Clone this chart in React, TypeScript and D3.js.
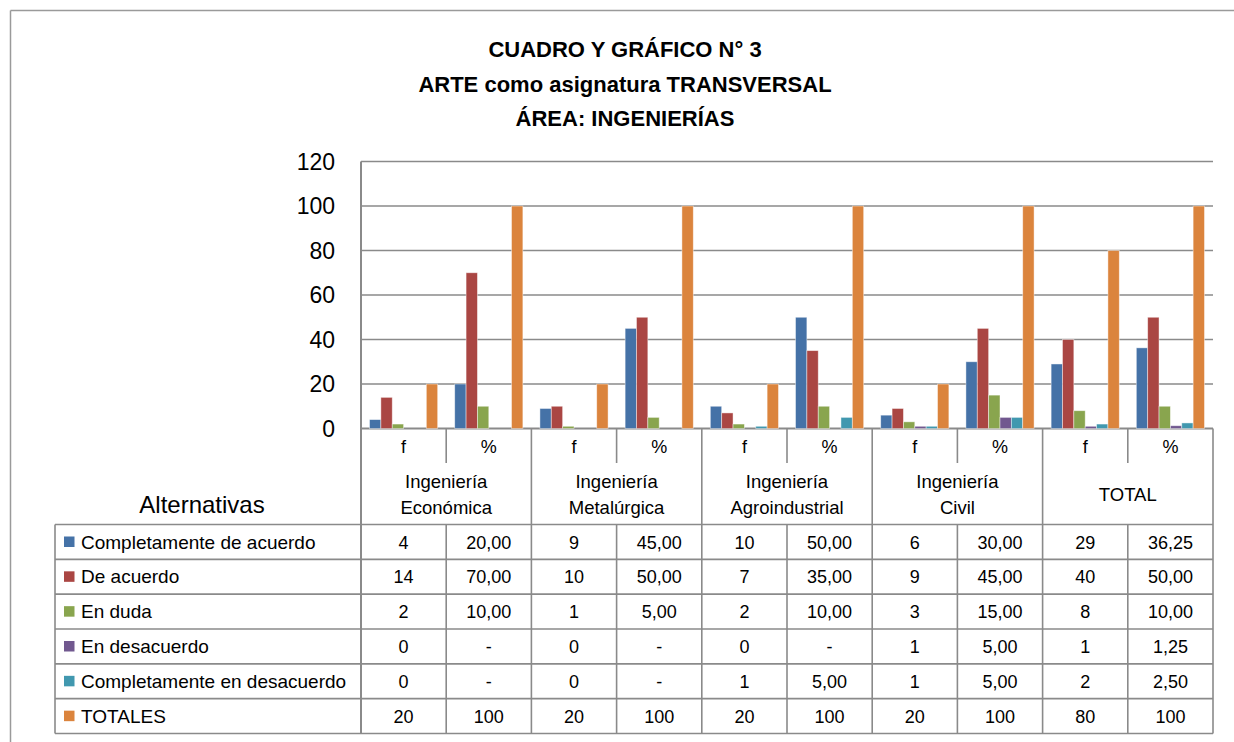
import React from "react";
import * as d3 from "d3";

const titleLines = ["CUADRO Y GRÁFICO N° 3", "ARTE como asignatura TRANSVERSAL", "ÁREA: INGENIERÍAS"];

const categories = [
  ["Ingeniería", "Económica"],
  ["Ingeniería", "Metalúrgica"],
  ["Ingeniería", "Agroindustrial"],
  ["Ingeniería", "Civil"],
  ["TOTAL"],
];
const subColumns = ["f", "%"];

const seriesNames = [
  "Completamente de acuerdo",
  "De acuerdo",
  "En duda",
  "En desacuerdo",
  "Completamente en desacuerdo",
  "TOTALES",
];
const seriesColors = ["#4572A7", "#AA4643", "#89A54E", "#71588F", "#4198AF", "#DB843D"];

// columns: Econ f, Econ %, Metal f, Metal %, Agro f, Agro %, Civil f, Civil %, TOTAL f, TOTAL %
const completamenteDeAcuerdo = [4, 20, 9, 45, 10, 50, 6, 30, 29, 36.25];
const deAcuerdo = [14, 70, 10, 50, 7, 35, 9, 45, 40, 50];
const enDuda = [2, 10, 1, 5, 2, 10, 3, 15, 8, 10];
const enDesacuerdo = [0, 0, 0, 0, 0, 0, 1, 5, 1, 1.25];
const completamenteEnDesacuerdo = [0, 0, 0, 0, 1, 5, 1, 5, 2, 2.5];
const totales = [20, 100, 20, 100, 20, 100, 20, 100, 80, 100];
const seriesValues = [completamenteDeAcuerdo, deAcuerdo, enDuda, enDesacuerdo, completamenteEnDesacuerdo, totales];

const yTicks = [0, 20, 40, 60, 80, 100, 120];
const rowHeaderLabel = "Alternativas";

const FONT = "'Liberation Sans', Arial, sans-serif";
const GRID = "#8a8a8a";

function fmt(v: number, isPct: boolean, isTotal: boolean): string {
  if (!isPct) return String(v);
  if (isTotal) return String(v);
  if (v === 0) return "-";
  return v.toFixed(2).replace(".", ",");
}

export default function App() {
  const W = 1234, H = 742;
  const plotLeft = 361, plotRight = 1213;
  const yTop = 161.5, yZero = 428.5;
  const tableLeft = 55;
  const headerSplit = 463;
  const rowsTop = 524.5, rowsBottom = 733.5;
  const rowH = (rowsBottom - rowsTop) / seriesNames.length;

  const colKeys: string[] = [];
  categories.forEach((_, ci) => subColumns.forEach((s) => colKeys.push(`${ci}|${s}`)));

  const x = d3.scaleBand<string>().domain(colKeys).range([plotLeft, plotRight]);
  const xs = d3.scaleBand<string>().domain(seriesNames).range([0, x.bandwidth()]).paddingInner(0).paddingOuter(0.75);
  const y = d3.scaleLinear().domain([0, 120]).range([yZero, yTop]);
  const catX = d3.scaleBand<number>().domain(categories.map((_, i) => i)).range([plotLeft, plotRight]);

  const bw = x.bandwidth();

  return (
    <svg
      width={W}
      height={H}
      style={{ position: "absolute", left: 0, top: 0, display: "block", background: "#fff" }}
      fontFamily={FONT}
    >
      <rect x={0} y={0} width={W} height={H} fill="#fff" />
      {/* outer frame */}
      <line x1={10.5} y1={10.5} x2={W} y2={10.5} stroke="#9a9a9a" strokeWidth={1.5} />
      <line x1={10.5} y1={10.5} x2={10.5} y2={H} stroke="#9a9a9a" strokeWidth={1.5} />

      {/* title */}
      {titleLines.map((t, i) => (
        <text key={t} x={625} y={57 + i * 34.5} textAnchor="middle" fontWeight="bold" fontSize={22} fill="#000">
          {t}
        </text>
      ))}

      {/* gridlines */}
      {yTicks.map((t) => (
        <g key={t}>
          <line x1={plotLeft} x2={plotRight} y1={y(t)} y2={y(t)} stroke={GRID} strokeWidth={t === 0 ? 2 : 1.6} />
          <text x={335} y={y(t) + 8.3} textAnchor="end" fontSize={23} fill="#000">
            {t}
          </text>
        </g>
      ))}

      {/* bars */}
      {colKeys.map((ck, ci) => (
        <g key={ck} transform={`translate(${x(ck)},0)`}>
          {seriesNames.map((s, si) => {
            const v = seriesValues[si][ci];
            if (v <= 0) return null;
            return (
              <rect
                key={s}
                x={xs(s)}
                y={y(v)}
                width={xs.bandwidth()}
                height={yZero - y(v)}
                fill={seriesColors[si]}
                stroke="rgba(255,255,255,0.55)"
                strokeWidth={0.8}
              />
            );
          })}
        </g>
      ))}

      {/* y axis line */}
      <line x1={plotLeft} x2={plotLeft} y1={yTop} y2={rowsBottom} stroke={GRID} strokeWidth={2} />

      {/* header: f / % */}
      {colKeys.map((ck) => (
        <text key={ck} x={(x(ck) as number) + bw / 2} y={453} textAnchor="middle" fontSize={18} fill="#000">
          {ck.split("|")[1]}
        </text>
      ))}
      {/* f|% separators */}
      {colKeys.map((ck, i) =>
        i % 2 === 1 ? (
          <g key={ck}>
            <line x1={x(ck)} x2={x(ck)} y1={yZero} y2={headerSplit} stroke={GRID} strokeWidth={1.6} />
            <line x1={x(ck)} x2={x(ck)} y1={rowsTop} y2={rowsBottom} stroke={GRID} strokeWidth={1.6} />
          </g>
        ) : null
      )}
      {/* category boundaries */}
      {categories.map((c, i) => {
        const x0 = catX(i) as number;
        const x1 = x0 + catX.bandwidth();
        const cx = x0 + catX.bandwidth() / 2;
        return (
          <g key={i}>
            <line x1={x1} x2={x1} y1={yZero} y2={rowsBottom} stroke={GRID} strokeWidth={1.6} />
            {c.length === 2 ? (
              <>
                <text x={cx} y={488} textAnchor="middle" fontSize={18.5} fill="#000">{c[0]}</text>
                <text x={cx} y={514} textAnchor="middle" fontSize={18.5} fill="#000">{c[1]}</text>
              </>
            ) : (
              <text x={cx} y={501} textAnchor="middle" fontSize={18.5} fill="#000">{c[0]}</text>
            )}
          </g>
        );
      })}

      <text x={202} y={513} textAnchor="middle" fontSize={24} fill="#000">
        {rowHeaderLabel}
      </text>

      {/* table rows */}
      <line x1={tableLeft} x2={tableLeft} y1={rowsTop} y2={rowsBottom} stroke={GRID} strokeWidth={1.6} />
      {d3.range(seriesNames.length + 1).map((i) => (
        <line
          key={i}
          x1={tableLeft}
          x2={plotRight}
          y1={rowsTop + i * rowH}
          y2={rowsTop + i * rowH}
          stroke={GRID}
          strokeWidth={1.6}
        />
      ))}
      {seriesNames.map((s, si) => {
        const top = rowsTop + si * rowH;
        return (
          <g key={s}>
            <rect x={64} y={top + 12} width={10.5} height={10.5} fill={seriesColors[si]} />
            <text x={81} y={top + 24} fontSize={19} fill="#000">{s}</text>
            {colKeys.map((ck, ci) => (
              <text
                key={ck}
                x={(x(ck) as number) + bw / 2}
                y={top + 24}
                textAnchor="middle"
                fontSize={18}
                fill="#000"
              >
                {fmt(seriesValues[si][ci], ck.endsWith("%"), si === seriesNames.length - 1)}
              </text>
            ))}
          </g>
        );
      })}
    </svg>
  );
}
